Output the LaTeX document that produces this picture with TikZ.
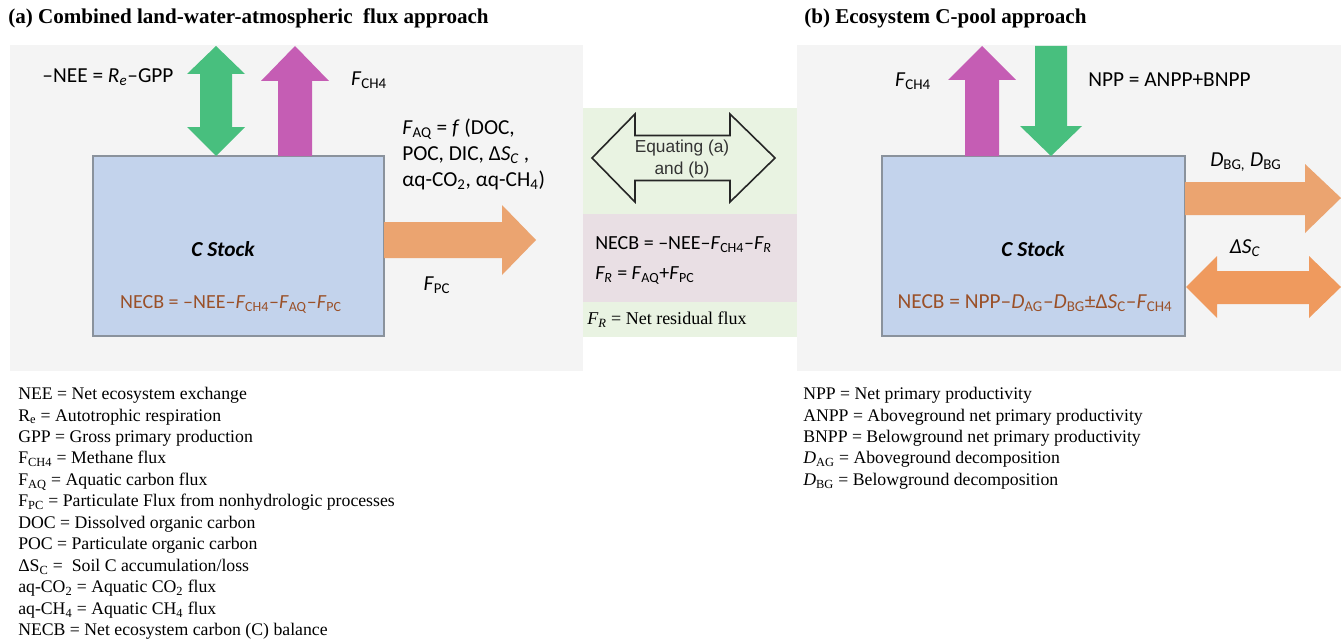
\documentclass[tikz,border=0pt]{standalone}
\usepackage{fontspec}
\setmainfont{Liberation Serif}
\newfontfamily\calibri{Carlito}
\newfontfamily\arial{Liberation Sans}
\usetikzlibrary{positioning}

\definecolor{panelgray}{HTML}{F4F4F4}
\definecolor{midgreen}{HTML}{E9F3E2}
\definecolor{midpink}{HTML}{E9DFE4}
\definecolor{stockblue}{HTML}{C3D3EC}
\definecolor{boxedge}{HTML}{8A929C}
\definecolor{arrowgreen}{HTML}{48BF7E}
\definecolor{arrowmagenta}{HTML}{C55DB4}
\definecolor{arroworange}{HTML}{EBA470}
\definecolor{darkorange}{HTML}{EF9A5E}
\definecolor{necbbrown}{HTML}{9A5028}

\newcommand{\lo}[1]{\textsubscript{#1}}

\begin{document}
\begin{tikzpicture}[x=0.75pt, y=-0.75pt,
  calib/.style = {font=\calibri\fontsize{16}{19.5}\selectfont, inner sep=0pt},
  legend/.style = {font=\fontsize{13.3}{16.1}\selectfont, align=left, inner sep=0pt, anchor=north west},
  title/.style = {font=\bfseries\fontsize{15.8}{18}\selectfont, anchor=west, inner sep=0pt},
  stockbox/.style = {fill=stockblue, draw=boxedge, line width=1.5pt, inner sep=0pt},
  stocktext/.style = {calib, font=\calibri\bfseries\itshape\fontsize{16}{19.5}\selectfont},
  necb/.style = {calib, text=necbbrown}]
\useasboundingbox (0,0) rectangle (1341,642);

% panels
\fill[panelgray] (10,45) rectangle (583,371);
\fill[panelgray] (797,45) rectangle (1341,371);
\fill[midgreen] (583,108) rectangle (797,214);
\fill[midpink] (583,214) rectangle (797,302);
\fill[midgreen] (583,302) rectangle (797,337);

\node[title] (titleA) at (8,18) {(a) Combined land-water-atmospheric\ \ flux approach};
\node[title] (titleB) at (804,18) {(b) Ecosystem C-pool approach};

% (a) land-water-atmosphere
\node[stockbox, minimum width=218.25pt, minimum height=135pt] (stockA) at (238.5,246) {};
\fill[arrowgreen] (216,46) -- (245,74) -- (232,74) -- (232,127) -- (245,127) -- (216,156)
  -- (187,127) -- (200,127) -- (200,74) -- (187,74) -- cycle;
\fill[arrowmagenta] (295,46) -- (329,81) -- (312,81) -- (312,156) -- (278,156) -- (278,81) -- (261,81) -- cycle;
\fill[arroworange] (384,222) -- (502,222) -- (502,205) -- (536,240) -- (502,275) -- (502,258) -- (384,258) -- cycle;

\node[calib] (neeA) at (108,77) {–NEE = \textit{R\lo{e}}–GPP};
\node[calib] (ch4A) at (369,80) {\textit{F}\lo{CH4}};
\node[calib, anchor=west, align=left] (faq) at (402,154)
  {\textit{F}\lo{AQ} = \textit{f} (DOC,\\ POC, DIC, Δ\textit{S\lo{C}} ,\\ αq-CO\lo{2}, αq-CH\lo{4})};
\node[calib] (fpc) at (437,285) {\textit{F}\lo{PC}};
\node[stocktext] (cstockA) at (223,249) {C Stock};
\node[necb, font=\calibri\fontsize{15}{18}\selectfont] (necbA) at (231,304)
  {NECB = –NEE–\textit{F}\lo{CH4}–\textit{F}\lo{AQ}–\textit{F}\lo{PC}};

% middle: equating
\draw[line width=1.2pt, draw=black!85] (592,158) -- (635,114) -- (635,135.5) -- (730,135.5) -- (730,114)
  -- (775,158) -- (730,202) -- (730,180.5) -- (635,180.5) -- (635,202) -- cycle;
\node[font=\arial\fontsize{13}{16.5}\selectfont, align=center, inner sep=0pt, text=black!80] (equate) at (682,159)
  {Equating (a)\\ and (b)};
\node[calib, anchor=west, align=left, font=\calibri\fontsize{15}{22.5}\selectfont] (necbM) at (595,260)
  {NECB = –NEE–\textit{F}\lo{CH4}–\textit{F\lo{R}}\\ \textit{F\lo{R}} = \textit{F}\lo{AQ}+\textit{F}\lo{PC}};
\node[anchor=west, inner sep=0pt, font=\fontsize{13.5}{16}\selectfont] (resid) at (587,320)
  {\textit{F\lo{R}} = Net residual flux};

% (b) C-pool
\node[stockbox, minimum width=227.25pt, minimum height=135pt] (stockB) at (1033.5,246) {};
\fill[arrowmagenta] (982,46) -- (1016,80) -- (999,80) -- (999,156) -- (965,156) -- (965,80) -- (948,80) -- cycle;
\fill[arrowgreen] (1035,46) -- (1067,46) -- (1067,126) -- (1082,126) -- (1051,156) -- (1020,126) -- (1035,126) -- cycle;
\fill[arroworange] (1185,182) -- (1305,182) -- (1305,164) -- (1341,198) -- (1305,233) -- (1305,215) -- (1185,215) -- cycle;
\fill[darkorange] (1186,287) -- (1217,256) -- (1217,271) -- (1309,271) -- (1309,256) -- (1341,287)
  -- (1309,318) -- (1309,304) -- (1217,304) -- (1217,318) -- cycle;

\node[calib] (ch4B) at (913,81) {\textit{F}\lo{CH4}};
\node[calib, anchor=west] (npp) at (1088,80) {NPP = ANPP+BNPP};
\node[calib, anchor=west] (dbg) at (1210,162) {\textit{D}\lo{BG,} \textit{D}\lo{BG}};
\node[calib] (dsc) at (1245,248) {\textit{ΔS\lo{C}}};
\node[stocktext] (cstockB) at (1033,249) {C Stock};
\node[necb] (necbB) at (1035,303) {NECB = NPP–\textit{D}\lo{AG}–\textit{D}\lo{BG}±Δ\textit{S}\lo{C}–\textit{F}\lo{CH4}};

% legends
\node[legend] (legA) at (18,387) {NEE = Net ecosystem exchange\\
  R\lo{e} = Autotrophic respiration\\
  GPP = Gross primary production\\
  F\lo{CH4} = Methane flux\\
  F\lo{AQ} = Aquatic carbon flux\\
  F\lo{PC} = Particulate Flux from nonhydrologic processes\\
  DOC = Dissolved organic carbon\\
  POC = Particulate organic carbon\\
  ΔS\lo{C} =\ \ Soil C accumulation/loss\\
  aq-CO\lo{2} = Aquatic CO\lo{2} flux\\
  aq-CH\lo{4} = Aquatic CH\lo{4} flux\\
  NECB = Net ecosystem carbon (C) balance};
\node[legend] (legB) at (803,387) {NPP = Net primary productivity\\
  ANPP = Aboveground net primary productivity\\
  BNPP = Belowground net primary productivity\\
  \textit{D}\lo{AG} = Aboveground decomposition\\
  \textit{D}\lo{BG} = Belowground decomposition};
\end{tikzpicture}
\end{document}
